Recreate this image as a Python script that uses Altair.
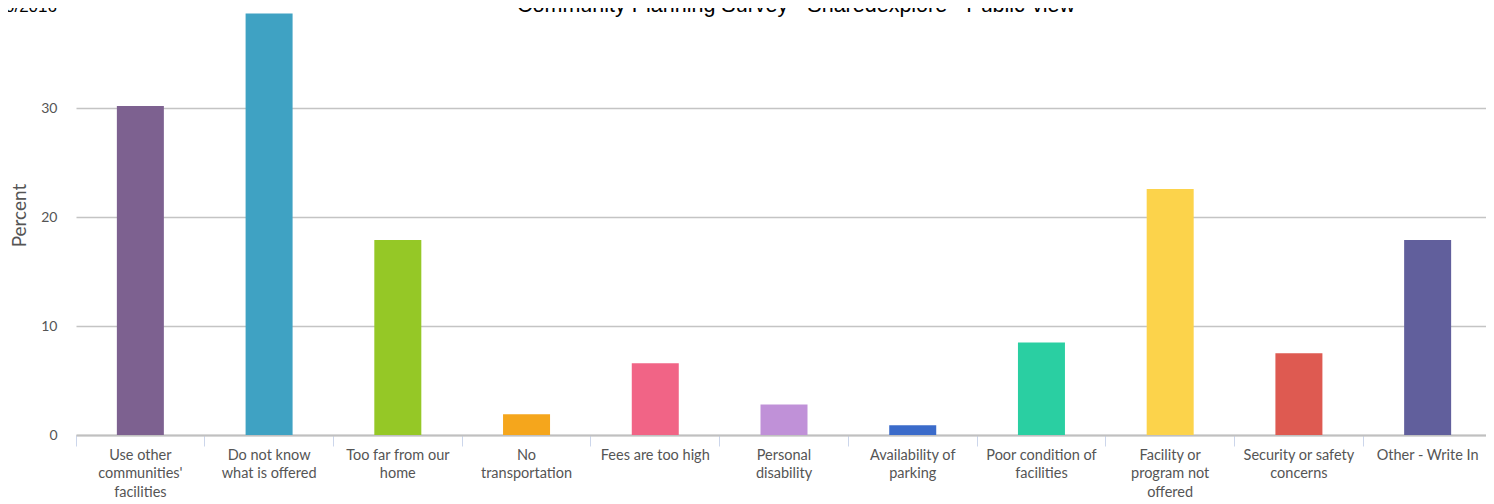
import json
import altair as alt
import pandas as pd

categories = [
    "Use other communities' facilities",
    "Do not know what is offered",
    "Too far from our home",
    "No transportation",
    "Fees are too high",
    "Personal disability",
    "Availability of parking",
    "Poor condition of facilities",
    "Facility or program not offered",
    "Security or safety concerns",
    "Other - Write In",
]
label_lines = [
    ["Use other", "communities'", "facilities"],
    ["Do not know", "what is offered"],
    ["Too far from our", "home"],
    ["No", "transportation"],
    ["Fees are too high"],
    ["Personal", "disability"],
    ["Availability of", "parking"],
    ["Poor condition of", "facilities"],
    ["Facility or", "program not", "offered"],
    ["Security or safety", "concerns"],
    ["Other - Write In"],
]
percent = [30.2, 38.7, 17.9, 1.9, 6.6, 2.8, 0.9, 8.5, 22.6, 7.5, 17.9]
colors = ["#7d6190", "#3fa2c3", "#95c826", "#f5a61c", "#f16486", "#c091d8",
          "#3b6bca", "#2acfa2", "#fcd34b", "#de5a51", "#615f9c"]
y_ticks = [0, 10, 20, 30]
title_text = "Community Planning Survey - Sharedexplore - Public-view"
date_text = "6/20/2016"

df = pd.DataFrame({"category": categories, "percent": percent})

label_expr = "{}[indexof({}, datum.label)]".format(
    json.dumps(label_lines), json.dumps(categories)
)

bars = alt.Chart(df).mark_bar(width=47).encode(
    x=alt.X(
        "category:N",
        sort=categories,
        scale=alt.Scale(paddingInner=0, paddingOuter=0),
        axis=alt.Axis(
            title=None,
            labelAngle=0,
            labelExpr=label_expr,
            labelFont="Lato",
            labelFontSize=14.5,
            labelColor="#555555",
            labelLineHeight=18.5,
            labelPadding=2,
            labelBaseline="top",
            tickSize=11,
            tickColor="#ccd6eb",
            tickWidth=1,
            bandPosition=0,
            domainColor="#c0c0c0",
            domainWidth=2,
            grid=False,
        ),
    ),
    y=alt.Y(
        "percent:Q",
        scale=alt.Scale(domain=[0, 39.21], nice=False),
        axis=alt.Axis(
            title="Percent",
            values=y_ticks,
            domain=False,
            ticks=False,
            labelFont="Lato",
            labelFontSize=14,
            labelColor="#555555",
            labelPadding=19,
            titleFont="Lato",
            titleFontSize=19,
            titleFontWeight="normal",
            titleColor="#555555",
            titleAngle=-90,
            titleX=-51,
            titleY=207,
            titleAlign="center",
            titleBaseline="alphabetic",
            gridColor="#c4c4c4",
            gridWidth=1.5,
        ),
    ),
    color=alt.Color(
        "category:N",
        scale=alt.Scale(domain=categories, range=colors),
        legend=None,
    ),
)

one = pd.DataFrame({"t": [title_text], "d": [date_text]})

title = alt.Chart(one).mark_text(
    font="Liberation Sans", fontSize=21.5, color="#000000",
    align="center", baseline="alphabetic",
).encode(text="t:N", x=alt.value(720), y=alt.value(4))

date = alt.Chart(one).mark_text(
    font="Liberation Sans", fontSize=17, color="#000000",
    align="right", baseline="alphabetic",
).encode(text="d:N", x=alt.value(-19), y=alt.value(4))

chart = alt.layer(bars, title, date).properties(
    width=1416,
    height=427,
    padding={"left": 68, "top": 0, "right": -6, "bottom": 69},
    autosize=alt.AutoSizeParams(type="none"),
).configure_view(stroke=None)

chart.save("out.html", embed_options={"renderer": "svg", "actions": False})
